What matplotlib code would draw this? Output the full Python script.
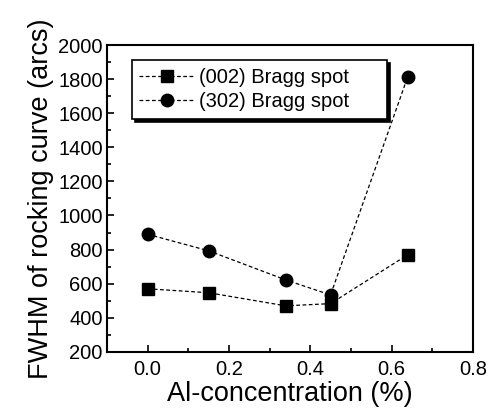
import matplotlib.pyplot as plt
from matplotlib.ticker import MultipleLocator

plt.rcParams["font.family"] = ["Liberation Sans", "DejaVu Sans"]

al_conc = [0.0, 0.15, 0.34, 0.45, 0.64]
fwhm_002 = [570, 547, 470, 483, 770]
fwhm_302 = [890, 793, 622, 534, 1815]
labels = ["(002) Bragg spot", "(302) Bragg spot"]

fig = plt.figure(figsize=(4.88, 4.13), dpi=100)
ax = fig.add_axes([0.219, 0.148, 0.750, 0.743])

ax.plot(al_conc, fwhm_002, ls=(0, (3, 2)), lw=0.9, c="black",
        marker="s", ms=8, label=labels[0])
ax.plot(al_conc, fwhm_302, ls=(0, (3, 2)), lw=0.9, c="black",
        marker="o", ms=9, label=labels[1])

ax.set_xlim(-0.1, 0.8)
ax.set_ylim(200, 2000)
ax.xaxis.set_major_locator(MultipleLocator(0.2))
ax.xaxis.set_minor_locator(MultipleLocator(0.1))
ax.yaxis.set_major_locator(MultipleLocator(200))
ax.yaxis.set_minor_locator(MultipleLocator(100))
ax.tick_params(which="both", direction="in", labelsize=14.5, width=1.2)
ax.tick_params(axis="y", pad=3)
ax.tick_params(axis="x", pad=6)
ax.tick_params(which="major", length=5)
ax.tick_params(which="minor", length=3)
for s in ax.spines.values():
    s.set_linewidth(1.5)

ax.set_xlabel("Al-concentration (%)", fontsize=19.5, labelpad=1)
ax.set_ylabel("FWHM of rocking curve (arcs)", fontsize=19.5, labelpad=3)

# legend box stretched to the width of the original
leg = ax.legend(loc="upper left", bbox_to_anchor=(0.068, 0, 0.697, 0.951),
                mode="expand", fontsize=14.5,
                frameon=True, fancybox=False, edgecolor="black",
                shadow={"color": "black", "alpha": 1}, handlelength=2.7,
                handletextpad=0.25, borderpad=0.38, labelspacing=0.28,
                borderaxespad=0)
leg.get_frame().set_linewidth(1.2)

fig.savefig("out.png", dpi=100)
